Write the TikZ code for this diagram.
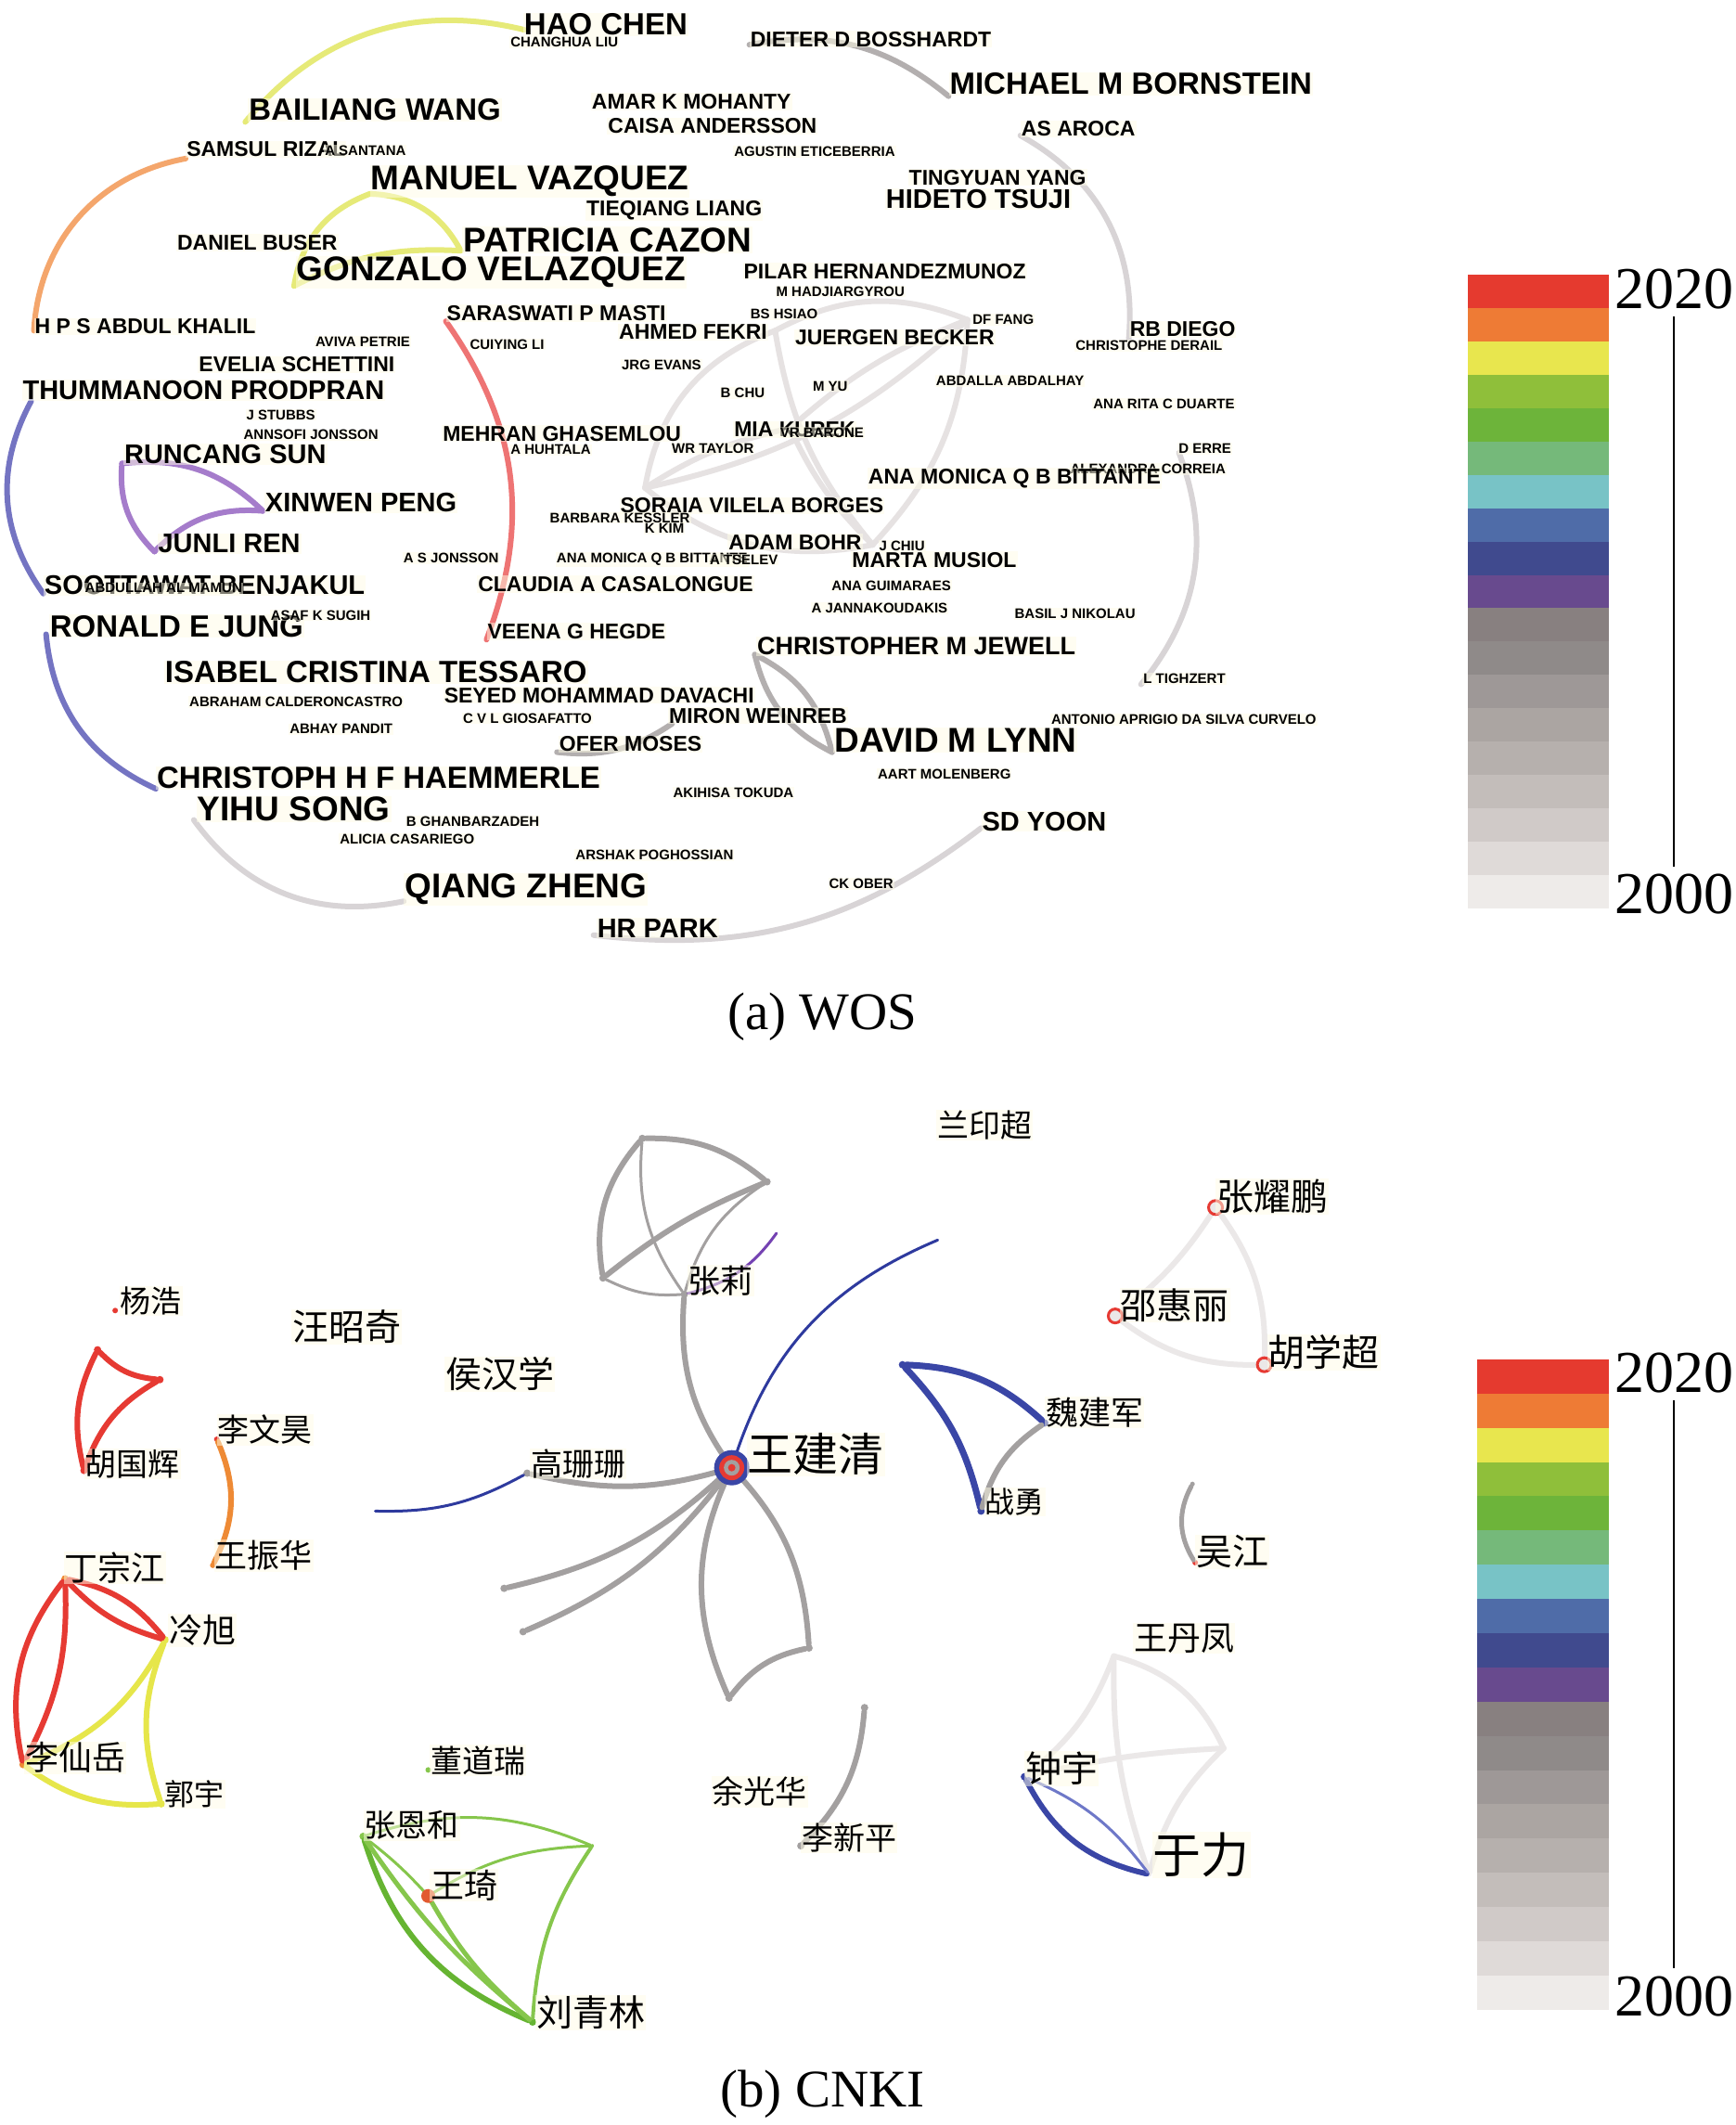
\documentclass[tikz,border=0pt]{standalone}
\usepackage{fontspec}
\setmainfont{Liberation Serif}
\setsansfont{Liberation Sans}
\newfontfamily\cjk{Noto Sans CJK SC}
\usetikzlibrary{positioning}

\definecolor{cream}{HTML}{FFFDE6}
% WOS edge colours
\definecolor{wosyellow}{HTML}{E6EA78}
\definecolor{wosorange}{HTML}{F4A66C}
\definecolor{wosred}{HTML}{EE7474}
\definecolor{wosblue}{HTML}{7474C2}
\definecolor{wospurple}{HTML}{A57CCB}
\definecolor{wosgray}{HTML}{B3AFAF}
\definecolor{wospale}{HTML}{D8D4D6}
\definecolor{wosweb}{HTML}{E6E2E2}
% CNKI edge colours
\definecolor{cnred}{HTML}{E63A33}
\definecolor{cnorange}{HTML}{EE8A35}
\definecolor{cnyellow}{HTML}{E6E64A}
\definecolor{cngreen}{HTML}{66B432}
\definecolor{cnlgreen}{HTML}{86C64C}
\definecolor{cnblue}{HTML}{3A46A6}
\definecolor{cnnavy}{HTML}{2E3A9E}
\definecolor{cnpurple}{HTML}{7442B2}
\definecolor{cngray}{HTML}{A3A0A0}
\definecolor{cnpale}{HTML}{EBE8E8}
\definecolor{cnhot}{HTML}{E25A30}
\definecolor{cnfade}{HTML}{6E78C8}
% year bar
\definecolor{barA}{HTML}{E53A2F}
\definecolor{barB}{HTML}{EE7B35}
\definecolor{barC}{HTML}{E8E64E}
\definecolor{barD}{HTML}{8FBF3A}
\definecolor{barE}{HTML}{6DB43A}
\definecolor{barF}{HTML}{75B97A}
\definecolor{barG}{HTML}{78C3C6}
\definecolor{barH}{HTML}{4F6CA8}
\definecolor{barI}{HTML}{404A8E}
\definecolor{barJ}{HTML}{684A8E}
\definecolor{barK}{HTML}{888080}
\definecolor{barL}{HTML}{8F8A89}
\definecolor{barM}{HTML}{9E9897}
\definecolor{barN}{HTML}{ABA5A2}
\definecolor{barO}{HTML}{B6B0AD}
\definecolor{barP}{HTML}{C3BDBA}
\definecolor{barQ}{HTML}{D0CAC8}
\definecolor{barR}{HTML}{DFDAD8}
\definecolor{barS}{HTML}{EEEBE9}

% x, y top, width, band height
\newcommand{\yearbar}[4]{%
  \foreach \c [count=\i from 0] in {barA,barB,barC,barD,barE,barF,barG,barH,barI,barJ,barK,barL,barM,barN,barO,barP,barQ,barR,barS}
    {\fill[\c] (#1,{#2+\i*#4}) rectangle ({#1+#3},{#2+(\i+1)*#4});}}

\begin{document}
\begin{tikzpicture}[x=1.4606pt, y=-1.4606pt,
  lbl/.style={anchor=west, fill=cream, fill opacity=.5, text opacity=1, inner sep=1pt,
    font=\sffamily\bfseries\fontsize{#1}{#1}\selectfont},
  zh/.style={anchor=west, fill=cream, fill opacity=.5, text opacity=1, inner sep=1pt,
    font=\cjk\fontsize{#1}{#1}\selectfont},
  link/.style={draw=#1, line width=6pt, line cap=round},
  thinlink/.style={draw=#1, line width=3pt, line cap=round},
  dot/.style={circle, fill=#1, inner sep=0pt, minimum size=8pt},
  ring/.style={circle, draw=cnred, line width=3pt, fill=cnpale, inner sep=0pt, minimum size=15pt},
  year/.style={anchor=west, inner sep=2pt, font=\rmfamily\fontsize{64}{64}\selectfont},
  capt/.style={font=\rmfamily\fontsize{57}{57}\selectfont},
  yearline/.style={line width=2.5pt, shorten >=6pt, shorten <=6pt}]
\fill[white] (0,0) rectangle (1281,1568);
\useasboundingbox (0,0) rectangle (1281,1568);
%%
%% (a) WOS
%%
\coordinate (bailiangP) at (181,90);
\coordinate (haoP) at (387,22);
\coordinate (dieterP) at (553,33);
\coordinate (michaelP) at (700,71);
\coordinate (asarocaP) at (753,100);
\coordinate (rbdiegoP) at (833,250);
\coordinate (samsulP) at (137,117);
\coordinate (hpsP) at (25,244);
\coordinate (manuelP) at (273,143);
\coordinate (patriciaP) at (340,185);
\coordinate (gonzaloP) at (217,211);
\coordinate (saraswatiP) at (329,237);
\coordinate (veenaP) at (359,472);
\coordinate (thummanoonP) at (23,296);
\coordinate (soottawatP) at (32,438);
\coordinate (runcangP) at (90,342);
\coordinate (xinwenP) at (194,377);
\coordinate (junliP) at (114,407);
\coordinate (ronaldP) at (34,468);
\coordinate (christophP) at (115,582);
\coordinate (yihuP) at (143,605);
\coordinate (qiangP) at (298,665);
\coordinate (hrparkP) at (438,690);
\coordinate (sdyoonP) at (724,611);
\coordinate (oferP) at (411,555);
\coordinate (mironP) at (496,534);
\coordinate (jewellP) at (557,483);
\coordinate (lynnP) at (614,555);
\coordinate (derreP) at (870,334);
\coordinate (tighzertP) at (842,505);
\coordinate (webA) at (572,244);
\coordinate (webB) at (714,236);
\coordinate (webC) at (644,402);
\coordinate (webD) at (476,360);
\coordinate (webE) at (583,316);
  % Edge: pale web in the middle
  \draw[link=wosweb] (webA) to[bend left=25] (webB);
  \draw[link=wosweb] (webA) to[bend right=30] (webD);
  \draw[link=wosweb] (webD) to[bend right=25] (webC);
  \draw[link=wosweb] (webA) to[bend right=15] (webC);
  \draw[link=wosweb] (webB) to[bend left=15] (webD);
  \draw[link=wosweb] (webB) to[bend left=20] (webC);
  \draw[link=wosweb] (webE) to[bend left=10] (webB);
  \draw[link=wosweb] (webE) to[bend right=10] (webC);
  \draw[link=wosweb] (webD) to[bend left=10] (webE);
  % Edge: other pairs
  \draw[link=wosyellow] (bailiangP) to[bend left=32] (haoP);
  \draw[link=wosgray] (dieterP) to[bend left=25] (michaelP);
  \draw[link=wospale] (asarocaP) to[bend left=33] (rbdiegoP);
  \draw[link=wosorange] (samsulP) to[bend right=38] (hpsP);
  \draw[link=wosyellow] (gonzaloP) to[bend left=30] (manuelP);
  \draw[link=wosyellow] (manuelP) to[bend left=30] (patriciaP);
  \draw[link=wosyellow] (gonzaloP) to[bend left=15] (patriciaP);
  \draw[link=wosred] (saraswatiP) to[bend left=28] (veenaP);
  \draw[link=wosblue] (thummanoonP) to[bend right=32] (soottawatP);
  \draw[link=wospurple] (runcangP) to[bend left=25] (xinwenP);
  \draw[link=wospurple] (runcangP) to[bend right=25] (junliP);
  \draw[link=wospurple] (junliP) to[bend left=25] (xinwenP);
  \draw[link=wosblue] (ronaldP) to[bend right=30] (christophP);
  \draw[link=wospale] (yihuP) to[bend right=33] (qiangP);
  \draw[link=wospale] (hrparkP) to[bend right=22] (sdyoonP);
  \draw[link=wosgray] (oferP) to[bend right=20] (mironP);
  \draw[link=wosgray] (jewellP) to[bend right=25] (lynnP);
  \draw[link=wosgray] (jewellP) to[bend left=25] (lynnP);
  \draw[link=wospale] (derreP) to[bend left=30] (tighzertP);
  % Node: authors
\node[lbl=33] (hao) at (386,18) {HAO CHEN};
\node[lbl=15] (changhua) at (376,31) {CHANGHUA LIU};
\node[lbl=23] (dieter) at (553,29) {DIETER D BOSSHARDT};
\node[lbl=33] (michael) at (700,62) {MICHAEL M BORNSTEIN};
\node[lbl=33] (bailiang) at (183,81) {BAILIANG WANG};
\node[lbl=23] (amar) at (436,75) {AMAR K MOHANTY};
\node[lbl=23] (caisa) at (448,93) {CAISA ANDERSSON};
\node[lbl=23] (asaroca) at (753,95) {AS AROCA};
\node[lbl=23] (samsul) at (137,110) {SAMSUL RIZAL};
\node[lbl=15] (santana) at (239,111) {A SANTANA};
\node[lbl=15] (agustin) at (541,112) {AGUSTIN ETICEBERRIA};
\node[lbl=37] (manuel) at (273,134) {MANUEL VAZQUEZ};
\node[lbl=23] (tingyuan) at (670,131) {TINGYUAN YANG};
\node[lbl=29] (hideto) at (653,147) {HIDETO TSUJI};
\node[lbl=23] (tieqiang) at (432,155) {TIEQIANG LIANG};
\node[lbl=23] (daniel) at (130,179) {DANIEL BUSER};
\node[lbl=37] (patricia) at (341,177) {PATRICIA CAZON};
\node[lbl=37] (gonzalo) at (218,201) {GONZALO VELAZQUEZ};
\node[lbl=23] (pilar) at (548,200) {PILAR HERNANDEZMUNOZ};
\node[lbl=15] (hadji) at (572,215) {M HADJIARGYROU};
\node[lbl=23] (saraswati) at (329,231) {SARASWATI P MASTI};
\node[lbl=15] (hsiao) at (553,232) {BS HSIAO};
\node[lbl=15] (fang) at (717,236) {DF FANG};
\node[lbl=23] (hps) at (25,241) {H P S ABDUL KHALIL};
\node[lbl=23] (fekri) at (456,245) {AHMED FEKRI};
\node[lbl=23] (becker) at (586,249) {JUERGEN BECKER};
\node[lbl=23] (rbdiego) at (833,243) {RB DIEGO};
\node[lbl=15] (derail) at (793,255) {CHRISTOPHE DERAIL};
\node[lbl=15] (aviva) at (232,252) {AVIVA PETRIE};
\node[lbl=15] (cuiying) at (346,254) {CUIYING LI};
\node[lbl=23] (evelia) at (146,269) {EVELIA SCHETTINI};
\node[lbl=15] (evans) at (458,269) {JRG EVANS};
\node[lbl=29] (thummanoon) at (16,288) {THUMMANOON PRODPRAN};
\node[lbl=15] (abdalla) at (690,281) {ABDALLA ABDALHAY};
\node[lbl=15] (myu) at (599,285) {M YU};
\node[lbl=15] (bchu) at (531,290) {B CHU};
\node[lbl=15] (duarte) at (806,298) {ANA RITA C DUARTE};
\node[lbl=15] (stubbs) at (181,306) {J STUBBS};
\node[lbl=23] (kurek) at (541,317) {MIA KUREK};
\node[lbl=15] (barone) at (575,319) {VR BARONE};
\node[lbl=23] (mehran) at (326,320) {MEHRAN GHASEMLOU};
\node[lbl=15] (annsofi) at (179,321) {ANNSOFI JONSSON};
\node[lbl=15] (huhtala) at (376,332) {A HUHTALA};
\node[lbl=15] (taylor) at (495,331) {WR TAYLOR};
\node[lbl=15] (erre) at (869,331) {D ERRE};
\node[lbl=29] (runcang) at (91,335) {RUNCANG SUN};
\node[lbl=15] (correia) at (789,346) {ALEXANDRA CORREIA};
\node[lbl=23] (bittante) at (640,353) {ANA MONICA Q B BITTANTE};
\node[lbl=29] (xinwen) at (195,371) {XINWEN PENG};
\node[lbl=23] (soraia) at (457,373) {SORAIA VILELA BORGES};
\node[lbl=15] (kessler) at (405,382) {BARBARA KESSLER};
\node[lbl=15] (kkim) at (475,390) {K KIM};
\node[lbl=29] (junli) at (116,401) {JUNLI REN};
\node[lbl=23] (bohr) at (537,400) {ADAM BOHR};
\node[lbl=15] (chiu) at (648,403) {J CHIU};
\node[lbl=23] (musiol) at (628,413) {MARTA MUSIOL};
\node[lbl=15] (asjonsson) at (297,412) {A S JONSSON};
\node[lbl=15] (anamonica) at (410,413) {ANA MONICA Q B BITTANTE};
\node[lbl=15] (tselev) at (523,413) {A TSELEV};
\node[lbl=23] (claudia) at (352,431) {CLAUDIA A CASALONGUE};
\node[lbl=15] (guimaraes) at (613,432) {ANA GUIMARAES};
\node[lbl=29] (soottawat) at (32,432) {SOOTTAWAT BENJAKUL};
\node[lbl=15] (mamun) at (62,434) {ABDULLAH AL MAMUN};
\node[lbl=15] (jannak) at (598,449) {A JANNAKOUDAKIS};
\node[lbl=15] (nikolau) at (748,453) {BASIL J NIKOLAU};
\node[lbl=33] (ronald) at (36,462) {RONALD E JUNG};
\node[lbl=15] (sugih) at (199,454) {ASAF K SUGIH};
\node[lbl=23] (veena) at (359,466) {VEENA G HEGDE};
\node[lbl=27] (jewell) at (558,477) {CHRISTOPHER M JEWELL};
\node[lbl=33] (isabel) at (121,496) {ISABEL CRISTINA TESSARO};
\node[lbl=15] (tighzert) at (843,501) {L TIGHZERT};
\node[lbl=15] (abraham) at (139,518) {ABRAHAM CALDERONCASTRO};
\node[lbl=23] (seyed) at (327,513) {SEYED MOHAMMAD DAVACHI};
\node[lbl=15] (giosafatto) at (341,530) {C V L GIOSAFATTO};
\node[lbl=23] (miron) at (493,528) {MIRON WEINREB};
\node[lbl=15] (curvelo) at (775,531) {ANTONIO APRIGIO DA SILVA CURVELO};
\node[lbl=15] (abhay) at (213,538) {ABHAY PANDIT};
\node[lbl=37] (lynn) at (615,546) {DAVID M LYNN};
\node[lbl=23] (ofer) at (412,549) {OFER MOSES};
\node[lbl=33] (christoph) at (115,574) {CHRISTOPH H F HAEMMERLE};
\node[lbl=15] (aart) at (647,571) {AART MOLENBERG};
\node[lbl=15] (tokuda) at (496,585) {AKIHISA TOKUDA};
\node[lbl=37] (yihu) at (145,597) {YIHU SONG};
\node[lbl=15] (ghanbar) at (299,606) {B GHANBARZADEH};
\node[lbl=29] (sdyoon) at (724,606) {SD YOON};
\node[lbl=15] (casariego) at (250,619) {ALICIA CASARIEGO};
\node[lbl=15] (arshak) at (424,631) {ARSHAK POGHOSSIAN};
\node[lbl=15] (ckober) at (611,652) {CK OBER};
\node[lbl=37] (qiang) at (298,656) {QIANG ZHENG};
\node[lbl=29] (hrpark) at (440,685) {HR PARK};
  % Node: year scale (a)
\yearbar{1083}{203}{104}{24.58}
\node[year] (topnew) at (1190,213) {2020};
\node[year] (topold) at (1190,660) {2000};
\draw[yearline] (topnew.south) -- (topold.north);
\node[capt] (capa) at (607,750) {(a) WOS};
%%
%% (b) CNKI
%%
  % Node: dots
\node[dot=cngray] (zlT) at (474,840) {};
\node[dot=cngray] (zlR) at (566,872) {};
\node[dot=cngray] (zlBL) at (445,943) {};
\node[dot=cngray] (zlP) at (505,955) {};
\coordinate (purEnd) at (573,910);
\coordinate (blueEnd) at (692,915);
\node[dot=cngray] (gssP) at (389,1087) {};
\coordinate (gssEnd) at (277,1115);
\node[dot=cngray] (leftA) at (372,1172) {};
\node[dot=cngray] (leftB) at (386,1204) {};
\node[dot=cngray] (petA) at (538,1253) {};
\node[dot=cngray] (petB) at (597,1216) {};
\node[dot=cnblue] (wjA) at (666,1007) {};
\node[dot=cnblue] (wjjP) at (771,1050) {};
\node[dot=cnblue] (zyP) at (724,1115) {};
\node[dot=cnred, minimum size=6pt] (yhP) at (85,967) {};
\node[dot=cnred] (hgA) at (72,996) {};
\node[dot=cnred] (hgB) at (118,1018) {};
\node[dot=cnred] (hgP) at (62,1085) {};
\node[dot=cnred, minimum size=6pt] (lwhP) at (160,1062) {};
\node[dot=cnorange, minimum size=6pt] (wzhP) at (157,1155) {};
\node[dot=cnorange] (dzjP) at (48,1165) {};
\node[dot=cnyellow] (lxP) at (122,1210) {};
\node[dot=cnorange] (lxyP) at (17,1302) {};
\node[dot=cnyellow] (gyP) at (119,1331) {};
\node[dot=cnlgreen, minimum size=6pt] (ddrP) at (316,1306) {};
\node[dot=cnlgreen] (ehP) at (268,1355) {};
\node[dot=cnlgreen, minimum size=4pt] (ehV) at (437,1362) {};
\node[dot=cngreen] (lqlP) at (393,1492) {};
\node[dot=cngray] (ygTop) at (638,1260) {};
\node[dot=cngray] (lxpP) at (591,1362) {};
\node[dot=cngray, minimum size=5pt] (wjTop) at (880,1095) {};
\node[dot=cnred, minimum size=6pt] (wjiangP) at (882,1153) {};
\coordinate (wdfP) at (822,1222);
\coordinate (wdR) at (903,1290);
\node[dot=cnblue] (zhyP) at (756,1311) {};
\node[dot=cnpale, minimum size=5pt] (ylP) at (848,1383) {};
\coordinate (wjqP) at (540,1083);
  % Edge: Wang Jianqing group
  \draw[thinlink=cnnavy] (wjqP) to[bend left=25] (blueEnd);
  \draw[link=cngray] (wjqP) to[bend left=20] (zlP);
  \draw[link=cngray] (wjqP) to[bend left=15] (gssP);
  \draw[link=cngray] (wjqP) to[bend left=15] (leftA);
  \draw[link=cngray] (wjqP) to[bend left=15] (leftB);
  \draw[link=cngray] (wjqP) to[bend right=25] (petA);
  \draw[link=cngray] (wjqP) to[bend left=20] (petB);
  \draw[link=cngray] (petA) to[bend left=20] (petB);
  \draw[link=cngray] (zlT) to[bend left=20] (zlR);
  \draw[link=cngray] (zlT) to[bend right=25] (zlBL);
  \draw[link=cngray] (zlBL) to[bend left=8] (zlR);
  \draw[thinlink=cngray] (zlT) to[bend right=20] (zlP);
  \draw[thinlink=cngray] (zlBL) to[bend right=15] (zlP);
  \draw[thinlink=cngray] (zlR) to[bend right=20] (zlP);
  \draw[thinlink=cnpurple] (zlP) to[bend right=20] (purEnd);
  \draw[thinlink=cnnavy] (gssP) to[bend left=15] (gssEnd);
  % Edge: Wei Jianjun group
  \draw[link=cnblue, line width=7pt] (wjA) to[bend left=20] (wjjP);
  \draw[link=cnblue, line width=7pt] (wjA) to[bend left=15] (zyP);
  \draw[link=cngray] (wjjP) to[bend right=20] (zyP);
  % Edge: Zhang Yaopeng group
  \coordinate (ypP) at (897,891);
  \coordinate (shlP) at (823,971);
  \coordinate (hxcP) at (933,1007);
  \draw[link=cnpale] (ypP) to[bend left=10] (shlP);
  \draw[link=cnpale] (ypP) to[bend left=20] (hxcP);
  \draw[link=cnpale] (shlP) to[bend right=20] (hxcP);
  \node[ring] (yp) at (ypP) {};
  \node[ring] (shlR) at (shlP) {};
  \node[ring] (hxcR) at (hxcP) {};
  \draw[link=cngray, line width=5pt] (wjTop) to[bend right=30] (wjiangP);
  % Edge: left groups
  \draw[link=cnred] (hgA) to[bend right=20] (hgB);
  \draw[link=cnred] (hgA) to[bend right=20] (hgP);
  \draw[link=cnred] (hgB) to[bend right=20] (hgP);
  \draw[link=cnorange] (lwhP) to[bend left=25] (wzhP);
  \draw[link=cnred] (dzjP) to[bend left=20] (lxP);
  \draw[link=cnred] (dzjP) to[bend right=15] (lxP);
  \draw[link=cnred] (dzjP) to[bend right=25] (lxyP);
  \draw[link=cnred] (dzjP) to[bend left=15] (lxyP);
  \draw[link=cnyellow] (lxP) to[bend left=20] (lxyP);
  \draw[link=cnyellow] (lxP) to[bend right=20] (gyP);
  \draw[link=cnyellow] (lxyP) to[bend right=20] (gyP);
  % Edge: Zhang Enhe group
  \coordinate (wqP) at (316,1399);
  \draw[thinlink=cnlgreen] (ehP) to[bend left=20] (ehV);
  \draw[thinlink=cnlgreen] (ehP) to[bend left=5] (wqP);
  \draw[thinlink=cnlgreen] (wqP) to[bend left=15] (ehV);
  \draw[link=cngreen] (ehP) to[bend right=25] (lqlP);
  \draw[link=cnlgreen, line width=5pt] (ehP) to[bend right=8] (lqlP);
  \draw[link=cnlgreen, line width=5pt] (wqP) to[bend right=10] (lqlP);
  \draw[link=cnlgreen, line width=4pt] (ehV) to[bend right=15] (lqlP);
  \node[dot=cnhot, minimum size=15pt] (wq) at (wqP) {};
  \draw[link=cngray] (ygTop) to[bend left=20] (lxpP);
  % Edge: Wang Danfeng group
  \draw[link=cnpale] (wdfP) to[bend left=25] (wdR);
  \draw[link=cnpale] (zhyP) to[bend left=5] (wdR);
  \draw[link=cnpale] (wdfP) to[bend right=10] (ylP);
  \draw[link=cnpale] (wdR) to[bend right=15] (ylP);
  \draw[link=cnpale] (zhyP) to[bend right=15] (wdfP);
  \draw[link=cnblue] (zhyP) to[bend right=25] (ylP);
  \draw[thinlink=cnfade] (zhyP) to[bend left=15] (ylP);
  % Node: Wang Jianqing
\node[circle, fill=cnblue, inner sep=0pt, minimum size=38pt] (wjq) at (wjqP) {};
\node[circle, fill=cnred, inner sep=0pt, minimum size=27pt] at (wjqP) {};
\node[circle, fill=cngray, inner sep=0pt, minimum size=17pt] at (wjqP) {};
\node[circle, fill=cnred, inner sep=0pt, minimum size=8pt] at (wjqP) {};
  % Node: authors
\node[zh=34] (lyc) at (691,830) {兰印超};
\node[zh=40] (zyp) at (897,883) {张耀鹏};
\node[zh=39] (shl) at (826,963) {邵惠丽};
\node[zh=40] (hxc) at (935,998) {胡学超};
\node[zh=33] (yh) at (88,960) {杨浩};
\node[zh=39] (wzq) at (215,979) {汪昭奇};
\node[zh=39] (hhx) at (328,1014) {侯汉学};
\node[zh=35] (zl) at (507,945) {张莉};
\node[zh=34] (lwh) at (160,1055) {李文昊};
\node[zh=34] (hgh) at (62,1080) {胡国辉};
\node[zh=34] (gss) at (391,1080) {高珊珊};
\node[zh=49] (wjqL) at (551,1073) {王建清};
\node[zh=35] (wjj) at (771,1042) {魏建军};
\node[zh=32] (zy) at (726,1108) {战勇};
\node[zh=35] (wzh) at (158,1148) {王振华};
\node[zh=39] (wj) at (882,1145) {吴江};
\node[zh=36] (dzj) at (47,1157) {丁宗江};
\node[zh=36] (lx) at (124,1203) {冷旭};
\node[zh=36] (wdf) at (836,1209) {王丹凤};
\node[zh=36] (lxy) at (18,1297) {李仙岳};
\node[zh=32] (gy) at (121,1324) {郭宇};
\node[zh=39] (zhy) at (756,1305) {钟宇};
\node[zh=34] (ddr) at (317,1299) {董道瑞};
\node[zh=34] (ygh) at (525,1322) {余光华};
\node[zh=34] (lxp) at (591,1356) {李新平};
\node[zh=34] (ehe) at (268,1347) {张恩和};
\node[zh=36] (wqL) at (317,1391) {王琦};
\node[zh=52] (yl) at (850,1369) {于力};
\node[zh=39] (lql) at (395,1485) {刘青林};
  % Node: year scale (b)
\yearbar{1090}{1003}{97}{25.26}
\node[year] (botnew) at (1190,1013) {2020};
\node[year] (botold) at (1190,1473) {2000};
\draw[yearline] (botnew.south) -- (botold.north);
\node[capt] (capb) at (607,1545) {(b) CNKI};
%
\end{tikzpicture}
\end{document}
